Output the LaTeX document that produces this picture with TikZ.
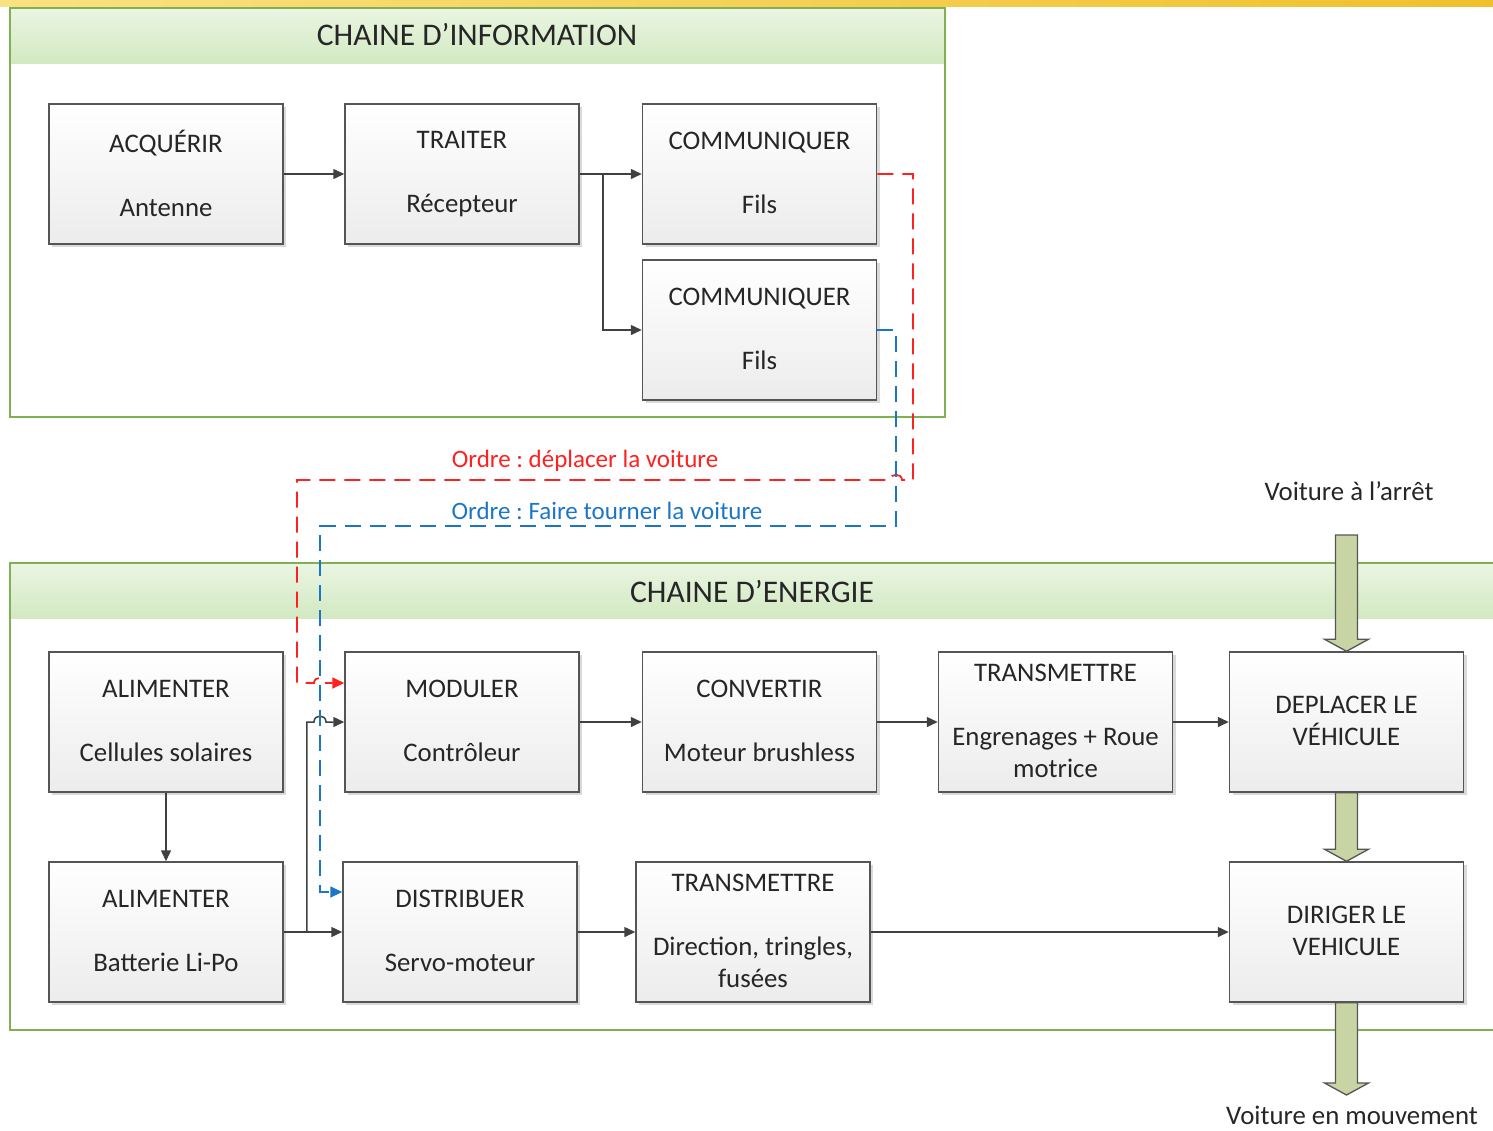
\documentclass[tikz,border=0pt]{standalone}
\usepackage{fontspec}
\setmainfont{Carlito}
\frenchspacing
\usetikzlibrary{arrows.meta,shadows,calc}
\definecolor{txt}{RGB}{38,38,38}
\definecolor{bord}{RGB}{85,85,85}
\definecolor{arr}{RGB}{64,64,64}
\definecolor{frm}{RGB}{128,176,84}
\definecolor{hdtop}{RGB}{234,245,226}
\definecolor{hdbot}{RGB}{210,233,194}
\definecolor{boxbot}{RGB}{236,236,236}
\definecolor{redl}{RGB}{255,32,32}
\definecolor{bluel}{RGB}{28,118,200}
\definecolor{bigfill}{RGB}{201,212,165}
\definecolor{yel1}{RGB}{250,226,130}
\definecolor{yel2}{RGB}{240,192,44}
\newcommand\topstrut{\rule{0pt}{24pt}}
\newcommand\botstrut{\rule[-2.2pt]{0pt}{2.2pt}}
\tikzset{
  blk/.style={draw=bord, line width=1.5pt, top color=white, bottom color=boxbot,
    minimum width=234pt, minimum height=140pt, align=center, inner sep=0pt,
    font=\fontsize{26.8}{32}\selectfont, text=txt,
    execute at begin node=\topstrut, execute at end node=\botstrut,
    drop shadow={shadow xshift=3pt, shadow yshift=-3pt, opacity=0.25, fill=black!60}},
  hdr/.style={font=\fontsize{31.5}{36}\selectfont, text=txt},
  lbl/.style={font=\fontsize{26.8}{32}\selectfont, text=txt},
  ordlbl/.style={font=\fontsize{25}{30}\selectfont},
  conn/.style={draw=arr, line width=1.5pt, -{Triangle[length=11pt,width=10pt]}},
  redline/.style={draw=redl, line width=1.8pt, dash pattern=on 16pt off 9pt, -{Triangle[length=12pt,width=11pt]}},
  blueline/.style={draw=bluel, line width=1.8pt, dash pattern=on 16pt off 9pt, -{Triangle[length=12pt,width=11pt]}},
  bigarr/.style={draw=bord, line width=1.3pt, fill=bigfill},
  frame/.style={draw=frm, line width=1.3pt},
}
\newcommand\fatarrow[2]{\draw[bigarr] let \p1=(#1), \p2=(#2) in
  (\x1-11pt,\y1) -- (\x1+11pt,\y1) -- (\x1+11pt,\y2+12pt) -- (\x1+22pt,\y2+12pt)
  -- (\x1,\y2) -- (\x1-22pt,\y2+12pt) -- (\x1-11pt,\y2+12pt) -- cycle;}
\begin{document}
\begin{tikzpicture}[x=1pt,y=-1pt]
\useasboundingbox (0,0) rectangle (1493,1130);
% top decorative strip
\shade[left color=yel1, right color=yel2] (0,0) rectangle (1493,6);
% frames
\shade[top color=hdtop, bottom color=hdbot] (11,9) rectangle (944,63);
\draw[frame] (10,8) rectangle (945,417);
\shade[top color=hdtop, bottom color=hdbot] (11,564) rectangle (1500,618);
\draw[frame] (10,563) rectangle (1510,1030);
\node[hdr] (hinfo) at (477,35) {CHAINE D’INFORMATION};
\node[hdr] (henergy) at (752,591) {CHAINE D’ENERGIE};
% information chain
\node[blk] (acq) at (166,174) {ACQUÉRIR\\[32pt]Antenne};
\node[blk] (trait) at (462,174) {TRAITER\\[32pt]Récepteur};
\node[blk] (comA) at (759.5,174) {COMMUNIQUER\\[32pt]Fils};
\node[blk] (comB) at (759.5,330) {COMMUNIQUER\\[32pt]Fils};
% energy chain
\node[blk] (alimA) at (166,722) {ALIMENTER\\[32pt]Cellules solaires};
\node[blk] (mod) at (462,722) {MODULER\\[32pt]Contrôleur};
\node[blk] (conv) at (759.5,722) {CONVERTIR\\[32pt]Moteur brushless};
\node[blk] (transA) at (1055.5,722) {TRANSMETTRE\\[32pt]Engrenages + Roue\\motrice};
\node[blk] (dep) at (1346.5,722) {DEPLACER LE\\VÉHICULE};
\node[blk] (alimB) at (166,932) {ALIMENTER\\[32pt]Batterie Li-Po};
\node[blk] (dist) at (460,932) {DISTRIBUER\\[32pt]Servo-moteur};
\node[blk] (transB) at (753,932) {TRANSMETTRE\\[32pt]Direction, tringles,\\fusées};
\node[blk] (dir) at (1346.5,932) {DIRIGER LE\\VEHICULE};
% solid connectors
\draw[conn] (acq.east) -- (trait.west);
\draw[conn] (trait.east) -- (comA.west);
\draw[conn] ($(trait.east)+(23,0)$) |- (comB.west);
\draw[conn] (alimA.south) -- (alimB.north);
\draw[conn] (alimB.east) -- (dist.west);
\draw[conn] ($(alimB.east)+(23,0)$) -- ($(alimB.east)+(23,-210)$) -- (314,722)
   .. controls (314,714) and (326,714) .. (326,722) -- (mod.west);
\draw[conn] (mod.east) -- (conv.west);
\draw[conn] (conv.east) -- (transA.west);
\draw[conn] (transA.east) -- (dep.west);
\draw[conn] (dist.east) -- (transB.west);
\draw[conn] (transB.east) -- (dir.west);
% order lines
\draw[redline] (comA.east) -| (913,480) -- (902,480) .. controls (902,473) and (890,473) .. (890,480)
   -- (297,480) |- (314,683) .. controls (314,676) and (326,676) .. (326,683) -- ($(mod.west)+(0,-39)$);
\draw[blueline] (comB.east) -| (896,526) -- (320,526) |- ($(dist.west)+(0,-40)$);
\node[ordlbl, text=redl] (lred) at (585,461) {Ordre : déplacer la voiture};
\node[ordlbl, text=bluel] (lblue) at (607,511) {Ordre : Faire tourner la voiture};
% block arrows
\coordinate (stop) at (1346.5,535);
\coordinate (move) at (1346.5,1095);
\fatarrow{stop}{dep.north}
\fatarrow{dep.south}{dir.north}
\fatarrow{dir.south}{move}
\node[lbl] (tstop) at (1349,491) {Voiture à l’arrêt};
\node[lbl] (tmove) at (1352,1115) {Voiture en mouvement};
\end{tikzpicture}
\end{document}
